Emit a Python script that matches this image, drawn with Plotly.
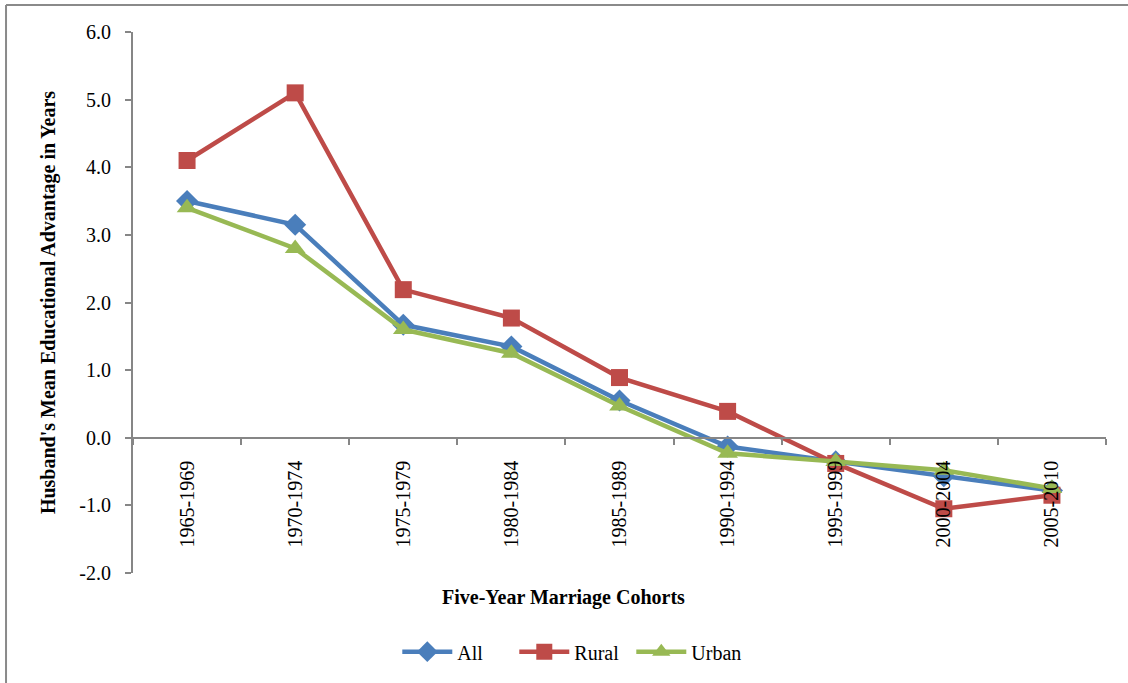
import plotly.graph_objects as go

categories = ["1965-1969", "1970-1974", "1975-1979", "1980-1984", "1985-1989",
              "1990-1994", "1995-1999", "2000-2004", "2005-2010"]
all_vals = [3.50, 3.15, 1.67, 1.35, 0.55, -0.13, -0.35, -0.57, -0.78]
rural_vals = [4.10, 5.10, 2.19, 1.77, 0.89, 0.39, -0.38, -1.05, -0.85]
urban_vals = [3.40, 2.80, 1.60, 1.25, 0.47, -0.23, -0.35, -0.48, -0.75]
y_ticks = [-2, -1, 0, 1, 2, 3, 4, 5, 6]
y_tick_labels = [f"{v:.1f}" for v in y_ticks]

FONT = "Liberation Serif, Times New Roman, serif"
GRAY = "#868686"

fig = go.Figure()
fig.add_trace(go.Scatter(x=categories, y=all_vals, name="All", mode="lines+markers",
                         line=dict(color="#4A7EBB", width=4.5),
                         marker=dict(symbol="diamond", size=17, color="#4A7EBB")))
fig.add_trace(go.Scatter(x=categories, y=rural_vals, name="Rural", mode="lines+markers",
                         line=dict(color="#BE4B48", width=4.5),
                         marker=dict(symbol="square", size=17, color="#BE4B48")))
fig.add_trace(go.Scatter(x=categories, y=urban_vals, name="Urban", mode="lines+markers",
                         line=dict(color="#98B954", width=4.5),
                         marker=dict(symbol="triangle-up", size=18, color="#98B954")))

fig.update_layout(
    width=1128, height=683,
    margin=dict(l=133, r=22, t=32, b=108),
    paper_bgcolor="white", plot_bgcolor="white",
    font=dict(family=FONT, size=20, color="black"),
    showlegend=True,
    legend=dict(orientation="h", x=0.452, xanchor="center", y=-0.1455, yanchor="middle",
                font=dict(size=20), itemwidth=50, tracegroupgap=0,
                entrywidth=52, entrywidthmode="pixels"),
    xaxis=dict(type="category", anchor="free", position=0.25,
               showline=True, linecolor=GRAY, linewidth=2,
               ticks="outside", tickson="boundaries", ticklen=6, tickcolor=GRAY, tickwidth=2,
               tickangle=-90, ticklabelstandoff=14, showgrid=False, zeroline=False,
               tickfont=dict(size=20), range=[-0.5, 8.5]),
    yaxis=dict(range=[-2, 6], tickvals=y_ticks, ticktext=y_tick_labels,
               showline=True, linecolor=GRAY, linewidth=2,
               ticks="outside", ticklen=6, tickcolor=GRAY, tickwidth=2,
               ticklabelstandoff=10,
               showgrid=False, zeroline=False, tickfont=dict(size=20),
               title=dict(text="<b>Husband's Mean Educational Advantage in Years</b>",
                          font=dict(size=20), standoff=18)),
    annotations=[dict(text="<b>Five-Year Marriage Cohorts</b>", xref="paper", yref="paper",
                      x=0.442, y=-0.046, xanchor="center", yanchor="middle",
                      showarrow=False, font=dict(size=20))],
    shapes=[
        dict(type="line", xref="paper", yref="paper", x0=-0.1305, x1=1.1,
             y0=1.0497, y1=1.0497, line=dict(color="#8a8a8a", width=2)),
        dict(type="line", xref="paper", yref="paper", x0=-0.1305, x1=-0.1305,
             y0=1.0497, y1=-0.3, line=dict(color="#8a8a8a", width=2)),
    ],
)

fig.write_html("out.html", config={"displayModeBar": False},
               post_script="document.body.style.margin='0';")
